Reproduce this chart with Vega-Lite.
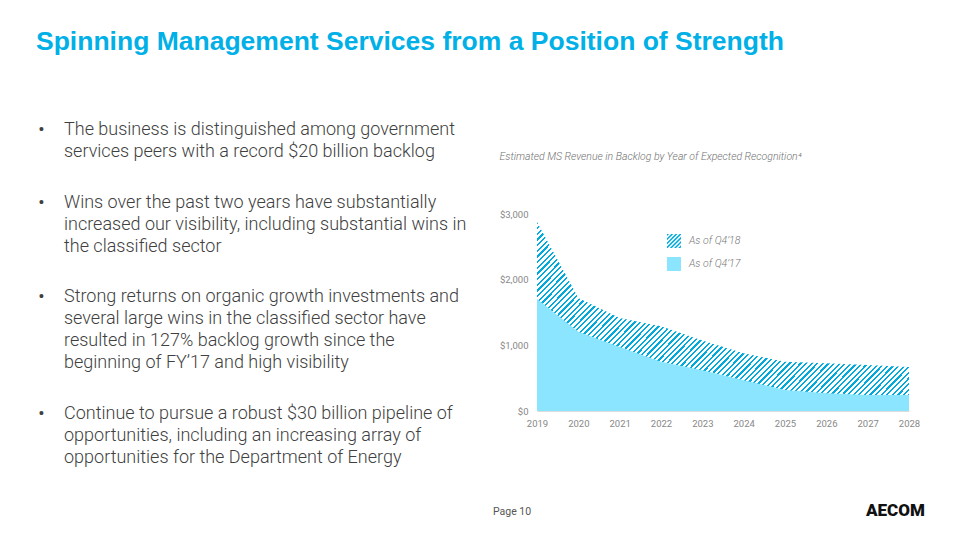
{
  "$schema": "https://vega.github.io/schema/vega-lite/v6.json",
  "background": "white",
  "padding": {"left": 0, "top": 28, "right": 0, "bottom": 0},
  "config": {"font": "Roboto", "view": {"stroke": null}},
  "title": {"text": "Spinning Management Services from a Position of Strength", "anchor": "start", "frame": "group", "dx": 36, "fontSize": 26.5, "fontWeight": "bold", "color": "#00B0E6", "font": "Liberation Sans", "offset": 64},
  "vconcat": [
    {
      "title": {"text": "AECOM", "orient": "bottom", "anchor": "start", "frame": "group", "dx": 866, "offset": -14, "fontSize": 17, "fontWeight": 900, "color": "#111111", "font": "Roboto"},
      "vconcat": [
        {
          "title": {"text": "Page 10", "orient": "bottom", "anchor": "start", "frame": "group", "dx": 493, "offset": 40, "fontSize": 10.5, "fontWeight": "normal", "color": "#555555", "font": "Roboto"},
          "bounds": "flush",
          "spacing": 40,
          "hconcat": [
            {
              "width": 497,
              "height": 197,
              "data": {"values": [
                {"line": 0, "part": "bullet", "text": "•"},
                {"line": 0, "part": "text", "text": "The business is distinguished among government"},
                {"line": 1, "part": "text", "text": "services peers with a record $20 billion backlog"},
                {"line": 3.3, "part": "bullet", "text": "•"},
                {"line": 3.3, "part": "text", "text": "Wins over the past two years have substantially"},
                {"line": 4.3, "part": "text", "text": "increased our visibility, including substantial wins in"},
                {"line": 5.3, "part": "text", "text": "the classified sector"},
                {"line": 7.6, "part": "bullet", "text": "•"},
                {"line": 7.6, "part": "text", "text": "Strong returns on organic growth investments and"},
                {"line": 8.6, "part": "text", "text": "several large wins in the classified sector have"},
                {"line": 9.6, "part": "text", "text": "resulted in 127% backlog growth since the"},
                {"line": 10.6, "part": "text", "text": "beginning of FY’17 and high visibility"},
                {"line": 12.9, "part": "bullet", "text": "•"},
                {"line": 12.9, "part": "text", "text": "Continue to pursue a robust $30 billion pipeline of"},
                {"line": 13.9, "part": "text", "text": "opportunities, including an increasing array of"},
                {"line": 14.9, "part": "text", "text": "opportunities for the Department of Energy"}
              ]},
              "mark": {"type": "text", "align": "left", "baseline": "middle", "fontSize": 18, "color": "#404040", "font": "Roboto", "fontWeight": 300},
              "encoding": {
                "x": {"field": "part", "type": "nominal", "scale": {"type": "point", "domain": ["bullet", "text"], "range": [38, 64], "padding": 0}, "axis": null},
                "y": {"field": "line", "type": "quantitative", "scale": {"domain": [0, 15], "range": [-84, 246], "zero": false, "nice": false}, "axis": null},
                "text": {"field": "text"},
                "size": {"field": "part", "type": "nominal", "scale": {"domain": ["bullet", "text"], "range": [21, 18]}, "legend": null}
              }
            },
            {
              "width": 372,
              "height": 197,
              "title": {"text": "Estimated MS Revenue in Backlog by Year of Expected Recognition⁴", "anchor": "start", "frame": "bounds", "fontSize": 10.5, "fontStyle": "italic", "fontWeight": 300, "color": "#707070", "font": "Roboto", "offset": 47},
              "data": {"values": [
                {"year": 2019, "q18": 2880, "q17": 1705},
                {"year": 2020, "q18": 1720, "q17": 1205},
                {"year": 2021, "q18": 1415, "q17": 975},
                {"year": 2022, "q18": 1290, "q17": 750},
                {"year": 2023, "q18": 1075, "q17": 620},
                {"year": 2024, "q18": 880, "q17": 470},
                {"year": 2025, "q18": 750, "q17": 320},
                {"year": 2026, "q18": 728, "q17": 272},
                {"year": 2027, "q18": 700, "q17": 245},
                {"year": 2028, "q18": 670, "q17": 245}
              ]},
              "encoding": {
                "x": {"field": "year", "type": "quantitative", "scale": {"domain": [2019, 2028], "nice": false, "zero": false},
                  "axis": {"values": [2019, 2020, 2021, 2022, 2023, 2024, 2025, 2026, 2027, 2028], "format": "d", "labelColor": "#888888", "labelFontSize": 9.5, "ticks": false, "domainColor": "#dcdcdc", "labelPadding": 7, "grid": false, "title": null, "labelFlush": false}}
              },
              "layer": [
                {
                  "mark": {"type": "area", "fill": {"gradient": "linear", "x1": 0, "y1": 0, "x2": 1.2, "y2": 0.6, "stops": [
{"offset":0,"color":"#0ad"},{"offset":0.004,"color":"#0ad"},{"offset":0.004,"color":"#fff"},{"offset":0.01,"color":"#fff"},
{"offset":0.01,"color":"#0ad"},{"offset":0.014,"color":"#0ad"},{"offset":0.014,"color":"#fff"},{"offset":0.02,"color":"#fff"},
{"offset":0.02,"color":"#0ad"},{"offset":0.024,"color":"#0ad"},{"offset":0.024,"color":"#fff"},{"offset":0.03,"color":"#fff"},
{"offset":0.03,"color":"#0ad"},{"offset":0.034,"color":"#0ad"},{"offset":0.034,"color":"#fff"},{"offset":0.04,"color":"#fff"},
{"offset":0.04,"color":"#0ad"},{"offset":0.044,"color":"#0ad"},{"offset":0.044,"color":"#fff"},{"offset":0.05,"color":"#fff"},
{"offset":0.05,"color":"#0ad"},{"offset":0.054,"color":"#0ad"},{"offset":0.054,"color":"#fff"},{"offset":0.06,"color":"#fff"},
{"offset":0.06,"color":"#0ad"},{"offset":0.064,"color":"#0ad"},{"offset":0.064,"color":"#fff"},{"offset":0.07,"color":"#fff"},
{"offset":0.07,"color":"#0ad"},{"offset":0.074,"color":"#0ad"},{"offset":0.074,"color":"#fff"},{"offset":0.08,"color":"#fff"},
{"offset":0.08,"color":"#0ad"},{"offset":0.084,"color":"#0ad"},{"offset":0.084,"color":"#fff"},{"offset":0.09,"color":"#fff"},
{"offset":0.09,"color":"#0ad"},{"offset":0.094,"color":"#0ad"},{"offset":0.094,"color":"#fff"},{"offset":0.1,"color":"#fff"},
{"offset":0.1,"color":"#0ad"},{"offset":0.104,"color":"#0ad"},{"offset":0.104,"color":"#fff"},{"offset":0.11,"color":"#fff"},
{"offset":0.11,"color":"#0ad"},{"offset":0.114,"color":"#0ad"},{"offset":0.114,"color":"#fff"},{"offset":0.12,"color":"#fff"},
{"offset":0.12,"color":"#0ad"},{"offset":0.124,"color":"#0ad"},{"offset":0.124,"color":"#fff"},{"offset":0.13,"color":"#fff"},
{"offset":0.13,"color":"#0ad"},{"offset":0.134,"color":"#0ad"},{"offset":0.134,"color":"#fff"},{"offset":0.14,"color":"#fff"},
{"offset":0.14,"color":"#0ad"},{"offset":0.144,"color":"#0ad"},{"offset":0.144,"color":"#fff"},{"offset":0.15,"color":"#fff"},
{"offset":0.15,"color":"#0ad"},{"offset":0.154,"color":"#0ad"},{"offset":0.154,"color":"#fff"},{"offset":0.16,"color":"#fff"},
{"offset":0.16,"color":"#0ad"},{"offset":0.164,"color":"#0ad"},{"offset":0.164,"color":"#fff"},{"offset":0.17,"color":"#fff"},
{"offset":0.17,"color":"#0ad"},{"offset":0.174,"color":"#0ad"},{"offset":0.174,"color":"#fff"},{"offset":0.18,"color":"#fff"},
{"offset":0.18,"color":"#0ad"},{"offset":0.184,"color":"#0ad"},{"offset":0.184,"color":"#fff"},{"offset":0.19,"color":"#fff"},
{"offset":0.19,"color":"#0ad"},{"offset":0.194,"color":"#0ad"},{"offset":0.194,"color":"#fff"},{"offset":0.2,"color":"#fff"},
{"offset":0.2,"color":"#0ad"},{"offset":0.204,"color":"#0ad"},{"offset":0.204,"color":"#fff"},{"offset":0.21,"color":"#fff"},
{"offset":0.21,"color":"#0ad"},{"offset":0.214,"color":"#0ad"},{"offset":0.214,"color":"#fff"},{"offset":0.22,"color":"#fff"},
{"offset":0.22,"color":"#0ad"},{"offset":0.224,"color":"#0ad"},{"offset":0.224,"color":"#fff"},{"offset":0.23,"color":"#fff"},
{"offset":0.23,"color":"#0ad"},{"offset":0.234,"color":"#0ad"},{"offset":0.234,"color":"#fff"},{"offset":0.24,"color":"#fff"},
{"offset":0.24,"color":"#0ad"},{"offset":0.244,"color":"#0ad"},{"offset":0.244,"color":"#fff"},{"offset":0.25,"color":"#fff"},
{"offset":0.25,"color":"#0ad"},{"offset":0.254,"color":"#0ad"},{"offset":0.254,"color":"#fff"},{"offset":0.26,"color":"#fff"},
{"offset":0.26,"color":"#0ad"},{"offset":0.264,"color":"#0ad"},{"offset":0.264,"color":"#fff"},{"offset":0.27,"color":"#fff"},
{"offset":0.27,"color":"#0ad"},{"offset":0.274,"color":"#0ad"},{"offset":0.274,"color":"#fff"},{"offset":0.28,"color":"#fff"},
{"offset":0.28,"color":"#0ad"},{"offset":0.284,"color":"#0ad"},{"offset":0.284,"color":"#fff"},{"offset":0.29,"color":"#fff"},
{"offset":0.29,"color":"#0ad"},{"offset":0.294,"color":"#0ad"},{"offset":0.294,"color":"#fff"},{"offset":0.3,"color":"#fff"},
{"offset":0.3,"color":"#0ad"},{"offset":0.304,"color":"#0ad"},{"offset":0.304,"color":"#fff"},{"offset":0.31,"color":"#fff"},
{"offset":0.31,"color":"#0ad"},{"offset":0.314,"color":"#0ad"},{"offset":0.314,"color":"#fff"},{"offset":0.32,"color":"#fff"},
{"offset":0.32,"color":"#0ad"},{"offset":0.324,"color":"#0ad"},{"offset":0.324,"color":"#fff"},{"offset":0.33,"color":"#fff"},
{"offset":0.33,"color":"#0ad"},{"offset":0.334,"color":"#0ad"},{"offset":0.334,"color":"#fff"},{"offset":0.34,"color":"#fff"},
{"offset":0.34,"color":"#0ad"},{"offset":0.344,"color":"#0ad"},{"offset":0.344,"color":"#fff"},{"offset":0.35,"color":"#fff"},
{"offset":0.35,"color":"#0ad"},{"offset":0.354,"color":"#0ad"},{"offset":0.354,"color":"#fff"},{"offset":0.36,"color":"#fff"},
{"offset":0.36,"color":"#0ad"},{"offset":0.364,"color":"#0ad"},{"offset":0.364,"color":"#fff"},{"offset":0.37,"color":"#fff"},
{"offset":0.37,"color":"#0ad"},{"offset":0.374,"color":"#0ad"},{"offset":0.374,"color":"#fff"},{"offset":0.38,"color":"#fff"},
{"offset":0.38,"color":"#0ad"},{"offset":0.384,"color":"#0ad"},{"offset":0.384,"color":"#fff"},{"offset":0.39,"color":"#fff"},
{"offset":0.39,"color":"#0ad"},{"offset":0.394,"color":"#0ad"},{"offset":0.394,"color":"#fff"},{"offset":0.4,"color":"#fff"},
{"offset":0.4,"color":"#0ad"},{"offset":0.404,"color":"#0ad"},{"offset":0.404,"color":"#fff"},{"offset":0.41,"color":"#fff"},
{"offset":0.41,"color":"#0ad"},{"offset":0.414,"color":"#0ad"},{"offset":0.414,"color":"#fff"},{"offset":0.42,"color":"#fff"},
{"offset":0.42,"color":"#0ad"},{"offset":0.424,"color":"#0ad"},{"offset":0.424,"color":"#fff"},{"offset":0.43,"color":"#fff"},
{"offset":0.43,"color":"#0ad"},{"offset":0.434,"color":"#0ad"},{"offset":0.434,"color":"#fff"},{"offset":0.44,"color":"#fff"},
{"offset":0.44,"color":"#0ad"},{"offset":0.444,"color":"#0ad"},{"offset":0.444,"color":"#fff"},{"offset":0.45,"color":"#fff"},
{"offset":0.45,"color":"#0ad"},{"offset":0.454,"color":"#0ad"},{"offset":0.454,"color":"#fff"},{"offset":0.46,"color":"#fff"},
{"offset":0.46,"color":"#0ad"},{"offset":0.464,"color":"#0ad"},{"offset":0.464,"color":"#fff"},{"offset":0.47,"color":"#fff"},
{"offset":0.47,"color":"#0ad"},{"offset":0.474,"color":"#0ad"},{"offset":0.474,"color":"#fff"},{"offset":0.48,"color":"#fff"},
{"offset":0.48,"color":"#0ad"},{"offset":0.484,"color":"#0ad"},{"offset":0.484,"color":"#fff"},{"offset":0.49,"color":"#fff"},
{"offset":0.49,"color":"#0ad"},{"offset":0.494,"color":"#0ad"},{"offset":0.494,"color":"#fff"},{"offset":0.5,"color":"#fff"},
{"offset":0.5,"color":"#0ad"},{"offset":0.504,"color":"#0ad"},{"offset":0.504,"color":"#fff"},{"offset":0.51,"color":"#fff"},
{"offset":0.51,"color":"#0ad"},{"offset":0.514,"color":"#0ad"},{"offset":0.514,"color":"#fff"},{"offset":0.52,"color":"#fff"},
{"offset":0.52,"color":"#0ad"},{"offset":0.524,"color":"#0ad"},{"offset":0.524,"color":"#fff"},{"offset":0.53,"color":"#fff"},
{"offset":0.53,"color":"#0ad"},{"offset":0.534,"color":"#0ad"},{"offset":0.534,"color":"#fff"},{"offset":0.54,"color":"#fff"},
{"offset":0.54,"color":"#0ad"},{"offset":0.544,"color":"#0ad"},{"offset":0.544,"color":"#fff"},{"offset":0.55,"color":"#fff"},
{"offset":0.55,"color":"#0ad"},{"offset":0.554,"color":"#0ad"},{"offset":0.554,"color":"#fff"},{"offset":0.56,"color":"#fff"},
{"offset":0.56,"color":"#0ad"},{"offset":0.564,"color":"#0ad"},{"offset":0.564,"color":"#fff"},{"offset":0.57,"color":"#fff"},
{"offset":0.57,"color":"#0ad"},{"offset":0.574,"color":"#0ad"},{"offset":0.574,"color":"#fff"},{"offset":0.58,"color":"#fff"},
{"offset":0.58,"color":"#0ad"},{"offset":0.584,"color":"#0ad"},{"offset":0.584,"color":"#fff"},{"offset":0.59,"color":"#fff"},
{"offset":0.59,"color":"#0ad"},{"offset":0.594,"color":"#0ad"},{"offset":0.594,"color":"#fff"},{"offset":0.6,"color":"#fff"},
{"offset":0.6,"color":"#0ad"},{"offset":0.604,"color":"#0ad"},{"offset":0.604,"color":"#fff"},{"offset":0.61,"color":"#fff"},
{"offset":0.61,"color":"#0ad"},{"offset":0.614,"color":"#0ad"},{"offset":0.614,"color":"#fff"},{"offset":0.62,"color":"#fff"},
{"offset":0.62,"color":"#0ad"},{"offset":0.624,"color":"#0ad"},{"offset":0.624,"color":"#fff"},{"offset":0.63,"color":"#fff"},
{"offset":0.63,"color":"#0ad"},{"offset":0.634,"color":"#0ad"},{"offset":0.634,"color":"#fff"},{"offset":0.64,"color":"#fff"},
{"offset":0.64,"color":"#0ad"},{"offset":0.644,"color":"#0ad"},{"offset":0.644,"color":"#fff"},{"offset":0.65,"color":"#fff"},
{"offset":0.65,"color":"#0ad"},{"offset":0.654,"color":"#0ad"},{"offset":0.654,"color":"#fff"},{"offset":0.66,"color":"#fff"},
{"offset":0.66,"color":"#0ad"},{"offset":0.664,"color":"#0ad"},{"offset":0.664,"color":"#fff"},{"offset":0.67,"color":"#fff"},
{"offset":0.67,"color":"#0ad"},{"offset":0.674,"color":"#0ad"},{"offset":0.674,"color":"#fff"},{"offset":0.68,"color":"#fff"},
{"offset":0.68,"color":"#0ad"},{"offset":0.684,"color":"#0ad"},{"offset":0.684,"color":"#fff"},{"offset":0.69,"color":"#fff"},
{"offset":0.69,"color":"#0ad"},{"offset":0.694,"color":"#0ad"},{"offset":0.694,"color":"#fff"},{"offset":0.7,"color":"#fff"},
{"offset":0.7,"color":"#0ad"},{"offset":0.704,"color":"#0ad"},{"offset":0.704,"color":"#fff"},{"offset":0.71,"color":"#fff"},
{"offset":0.71,"color":"#0ad"},{"offset":0.714,"color":"#0ad"},{"offset":0.714,"color":"#fff"},{"offset":0.72,"color":"#fff"},
{"offset":0.72,"color":"#0ad"},{"offset":0.724,"color":"#0ad"},{"offset":0.724,"color":"#fff"},{"offset":0.73,"color":"#fff"},
{"offset":0.73,"color":"#0ad"},{"offset":0.734,"color":"#0ad"},{"offset":0.734,"color":"#fff"},{"offset":0.74,"color":"#fff"},
{"offset":0.74,"color":"#0ad"},{"offset":0.744,"color":"#0ad"},{"offset":0.744,"color":"#fff"},{"offset":0.75,"color":"#fff"},
{"offset":0.75,"color":"#0ad"},{"offset":0.754,"color":"#0ad"},{"offset":0.754,"color":"#fff"},{"offset":0.76,"color":"#fff"},
{"offset":0.76,"color":"#0ad"},{"offset":0.764,"color":"#0ad"},{"offset":0.764,"color":"#fff"},{"offset":0.77,"color":"#fff"},
{"offset":0.77,"color":"#0ad"},{"offset":0.774,"color":"#0ad"},{"offset":0.774,"color":"#fff"},{"offset":0.78,"color":"#fff"},
{"offset":0.78,"color":"#0ad"},{"offset":0.784,"color":"#0ad"},{"offset":0.784,"color":"#fff"},{"offset":0.79,"color":"#fff"},
{"offset":0.79,"color":"#0ad"},{"offset":0.794,"color":"#0ad"},{"offset":0.794,"color":"#fff"},{"offset":0.8,"color":"#fff"},
{"offset":0.8,"color":"#0ad"},{"offset":0.804,"color":"#0ad"},{"offset":0.804,"color":"#fff"},{"offset":0.81,"color":"#fff"},
{"offset":0.81,"color":"#0ad"},{"offset":0.814,"color":"#0ad"},{"offset":0.814,"color":"#fff"},{"offset":0.82,"color":"#fff"},
{"offset":0.82,"color":"#0ad"},{"offset":0.824,"color":"#0ad"},{"offset":0.824,"color":"#fff"},{"offset":0.83,"color":"#fff"},
{"offset":0.83,"color":"#0ad"},{"offset":0.834,"color":"#0ad"},{"offset":0.834,"color":"#fff"},{"offset":0.84,"color":"#fff"},
{"offset":0.84,"color":"#0ad"},{"offset":0.844,"color":"#0ad"},{"offset":0.844,"color":"#fff"},{"offset":0.85,"color":"#fff"},
{"offset":0.85,"color":"#0ad"},{"offset":0.854,"color":"#0ad"},{"offset":0.854,"color":"#fff"},{"offset":0.86,"color":"#fff"},
{"offset":0.86,"color":"#0ad"},{"offset":0.864,"color":"#0ad"},{"offset":0.864,"color":"#fff"},{"offset":0.87,"color":"#fff"},
{"offset":0.87,"color":"#0ad"},{"offset":0.874,"color":"#0ad"},{"offset":0.874,"color":"#fff"},{"offset":0.88,"color":"#fff"},
{"offset":0.88,"color":"#0ad"},{"offset":0.884,"color":"#0ad"},{"offset":0.884,"color":"#fff"},{"offset":0.89,"color":"#fff"},
{"offset":0.89,"color":"#0ad"},{"offset":0.894,"color":"#0ad"},{"offset":0.894,"color":"#fff"},{"offset":0.9,"color":"#fff"},
{"offset":0.9,"color":"#0ad"},{"offset":0.904,"color":"#0ad"},{"offset":0.904,"color":"#fff"},{"offset":0.91,"color":"#fff"},
{"offset":0.91,"color":"#0ad"},{"offset":0.914,"color":"#0ad"},{"offset":0.914,"color":"#fff"},{"offset":0.92,"color":"#fff"},
{"offset":0.92,"color":"#0ad"},{"offset":0.924,"color":"#0ad"},{"offset":0.924,"color":"#fff"},{"offset":0.93,"color":"#fff"},
{"offset":0.93,"color":"#0ad"},{"offset":0.934,"color":"#0ad"},{"offset":0.934,"color":"#fff"},{"offset":0.94,"color":"#fff"},
{"offset":0.94,"color":"#0ad"},{"offset":0.944,"color":"#0ad"},{"offset":0.944,"color":"#fff"},{"offset":0.95,"color":"#fff"},
{"offset":0.95,"color":"#0ad"},{"offset":0.954,"color":"#0ad"},{"offset":0.954,"color":"#fff"},{"offset":0.96,"color":"#fff"},
{"offset":0.96,"color":"#0ad"},{"offset":0.964,"color":"#0ad"},{"offset":0.964,"color":"#fff"},{"offset":0.97,"color":"#fff"},
{"offset":0.97,"color":"#0ad"},{"offset":0.974,"color":"#0ad"},{"offset":0.974,"color":"#fff"},{"offset":0.98,"color":"#fff"},
{"offset":0.98,"color":"#0ad"},{"offset":0.984,"color":"#0ad"},{"offset":0.984,"color":"#fff"},{"offset":0.99,"color":"#fff"},
{"offset":0.99,"color":"#0ad"},{"offset":0.994,"color":"#0ad"},{"offset":0.994,"color":"#fff"},{"offset":1,"color":"#fff"}
                  ]}},
                  "encoding": {
                    "y": {"field": "q18", "type": "quantitative", "scale": {"domain": [0, 3000], "nice": false, "zero": true},
                      "axis": {"values": [0, 1000, 2000, 3000], "format": "$,.0f", "labelColor": "#888888", "labelFontSize": 9.5, "ticks": false, "domain": false, "grid": false, "labelPadding": 9, "title": null}}
                  }
                },
                {
                  "mark": {"type": "area"},
                  "encoding": {
                    "y": {"field": "q17", "type": "quantitative",
                      "axis": {"values": [0, 1000, 2000, 3000], "format": "$,.0f", "labelColor": "#888888", "labelFontSize": 9.5, "ticks": false, "domain": false, "grid": false, "labelPadding": 9, "title": null}},
                    "fill": {"datum": "As of Q4’17", "type": "nominal",
                      "scale": {"domain": ["As of Q4’18", "As of Q4’17"], "range": ["#00AADD", "#8BE5FF"]},
                      "legend": {"orient": "none", "legendX": 666, "legendY": 19, "title": null, "padding": 0, "symbolType": "square", "symbolSize": 196, "rowPadding": 8, "labelFontSize": 10.5, "labelFontStyle": "italic", "labelFontWeight": 300, "labelColor": "#777777", "labelOffset": 7, "labelFont": "Roboto",
                        "encode": {"symbols": {"update": {"shape": {"signal": "indexof(datum.label, '18') >= 0 ? 'M-1,-1L-0.7,-1L-1,-0.7ZM-1,-0.4L-0.4,-1L-0.1,-1L-1,-0.1ZM-1,0.2L0.2,-1L0.5,-1L-1,0.5ZM-1,0.8L0.8,-1L1,-1L1,-0.9L-0.9,1L-1,1ZM-0.6,1L1,-0.6L1,-0.3L-0.3,1ZM0,1L1,0L1,0.3L0.3,1ZM0.6,1L1,0.6L1,0.9L0.9,1Z' : 'square'"}}}}}
                    }
                  }
                }
              ]
            }
          ]
        }
      ]
    }
  ]
}
